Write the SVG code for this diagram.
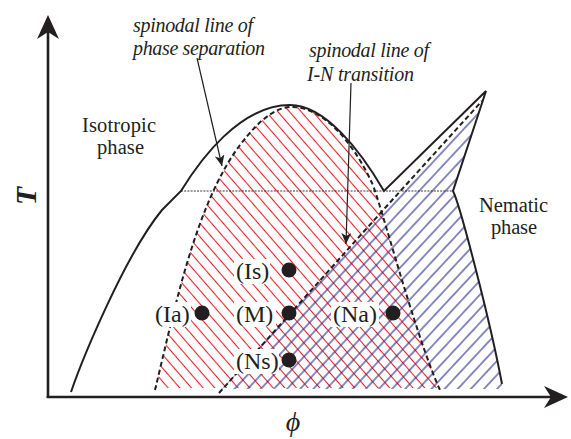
<svg xmlns="http://www.w3.org/2000/svg" width="571" height="439" viewBox="0 0 571 439">
<style>
.ax{stroke:#231f20;stroke-width:2.6;fill:none}
.ah{fill:#231f20}
.curve{stroke:#231f20;stroke-width:2;fill:none;stroke-linejoin:miter}
.dash{stroke:#231f20;stroke-width:2;fill:none;stroke-dasharray:5,3}
.dotl{stroke:#231f20;stroke-width:0.9;stroke-dasharray:2,1.2;fill:none}
.ann{stroke:#231f20;stroke-width:1.2;fill:none}
.serif{font-family:"Liberation Serif","Times New Roman",serif;fill:#231f20}
.it{font-style:italic;font-size:20px}
.ph{font-size:20.5px}
.lbl{font-size:24px}
.bg{fill:#fff}
.pt{fill:#231f20}
</style>
<defs>
<pattern id="redH" patternUnits="userSpaceOnUse" width="8.8" height="20" patternTransform="rotate(-41)"><line x1="4.4" y1="0" x2="4.4" y2="20" stroke="#ee1c25" stroke-width="1.1"/></pattern>
<pattern id="blueH" patternUnits="userSpaceOnUse" width="9.6" height="20" patternTransform="rotate(43)"><line x1="4.8" y1="0" x2="4.8" y2="20" stroke="#262c8f" stroke-width="1.1"/></pattern>
<marker id="arr" viewBox="0 0 11 10" refX="11" refY="5" markerWidth="11" markerHeight="10" markerUnits="userSpaceOnUse" orient="auto"><path d="M0,0 L11,5 L0,10 L3,5 Z" fill="#231f20"/></marker>
</defs>

<g id="hatching">
<path id="red-region" fill="url(#redH)" d="M156,388 C174,312 195,205 240,145 C262,116 278,107 292,107 C322,107 352,140 372,183 C380,200 415,335 439,388 Z"/>
<path id="blue-region" fill="url(#blueH)" d="M222,389 L385,208 L482,102 L486,91 L453,191 C460,205 490,320 502,384 L503,389 Z"/>
</g>

<g id="curves">
<path id="binodal" class="curve" d="M71,392 C82,360 125,255 162,210 L181,191 C200,160 240,105 290,105 C325,105 360,150 384,191 L486,91 L453,191 C460,205 490,320 502,384"/>
<path id="spinodal-ps" class="dash" d="M155,390 C174,312 195,205 240,145 C262,116 278,107 292,107 C322,107 352,140 372,183 C380,200 415,335 440,390"/>
<path id="spinodal-in" class="dash" d="M219,393 L385,208 L482,101"/>
<path id="tie" class="dotl" d="M181,191 L453,191"/>
</g>

<g id="labels">
<g id="Is"><rect class="bg" x="234" y="259" width="36" height="25"/><text class="serif lbl" x="236" y="279">(Is)</text><circle class="pt" cx="289" cy="270" r="7.5"/></g>
<g id="Ia"><rect class="bg" x="153" y="302" width="38" height="25"/><text class="serif lbl" x="155" y="322">(Ia)</text><circle class="pt" cx="202" cy="313" r="7.5"/></g>
<g id="M"><rect class="bg" x="234" y="302" width="42" height="25"/><text class="serif lbl" x="236" y="322">(M)</text><circle class="pt" cx="289" cy="313" r="7.5"/></g>
<g id="Na"><rect class="bg" x="331" y="302" width="48" height="25"/><text class="serif lbl" x="333" y="322">(Na)</text><circle class="pt" cx="393" cy="313" r="7.5"/></g>
<g id="Ns"><rect class="bg" x="234" y="349" width="45" height="25"/><text class="serif lbl" x="236" y="369">(Ns)</text><circle class="pt" cx="289" cy="360" r="7.5"/></g>
</g>

<g id="connectors">
<line class="ann" x1="197" y1="58" x2="222" y2="166" marker-end="url(#arr)"/>
<line class="ann" x1="351" y1="83" x2="346" y2="244" marker-end="url(#arr)"/>
</g>

<g id="annotations">
<text class="serif it" x="133" y="32" textLength="120" lengthAdjust="spacing">spinodal line of</text>
<text class="serif it" x="133" y="55" textLength="132" lengthAdjust="spacing">phase separation</text>
<text class="serif it" x="309" y="57" textLength="120" lengthAdjust="spacing">spinodal line of</text>
<text class="serif it" x="307" y="81" textLength="107" lengthAdjust="spacing">I-N transition</text>
<text class="serif ph" x="82" y="132" textLength="74" lengthAdjust="spacing">Isotropic</text>
<text class="serif ph" x="97" y="154" textLength="47" lengthAdjust="spacing">phase</text>
<text class="serif ph" x="479" y="212" textLength="69" lengthAdjust="spacing">Nematic</text>
<text class="serif ph" x="491" y="234" textLength="46" lengthAdjust="spacing">phase</text>
</g>

<g id="axes">
<line class="ax" x1="48" y1="398" x2="48" y2="30"/>
<line class="ax" x1="46.7" y1="397" x2="552" y2="397"/>
<path class="ah" d="M48,15 L59,39 L48,32 L37,39 Z"/>
<path class="ah" d="M568,397 L544,408 L551,397 L544,386 Z"/>
<text class="serif" transform="translate(36,196) rotate(-90)" text-anchor="middle" font-size="30" font-weight="bold" font-style="italic">T</text>
<text class="serif" x="293" y="431" text-anchor="middle" font-size="28" font-style="italic">ϕ</text>
</g>
</svg>
